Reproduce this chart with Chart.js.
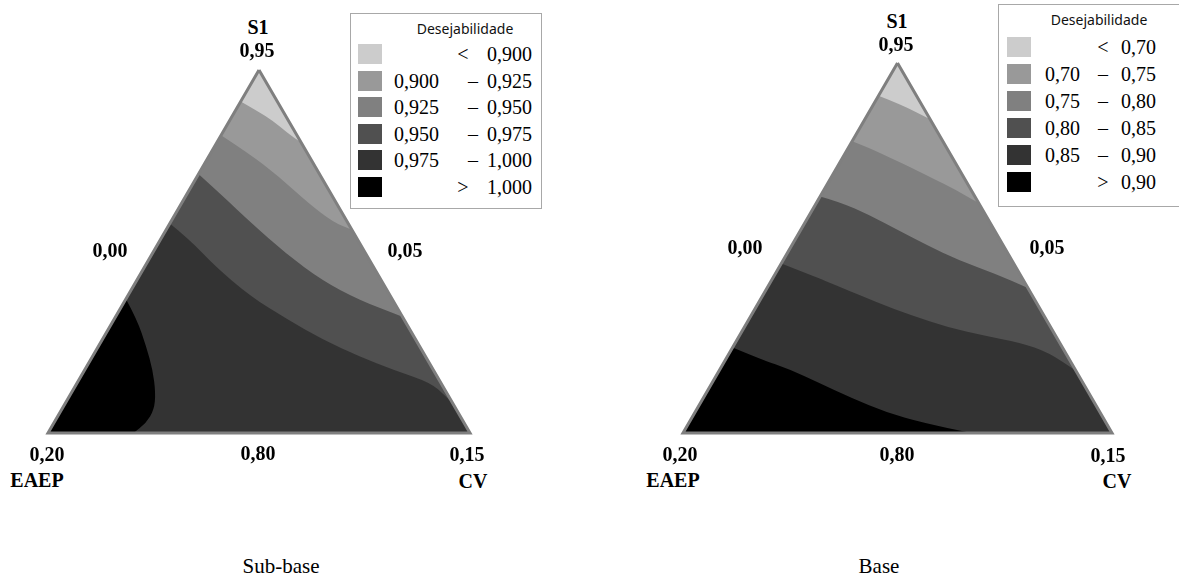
<!DOCTYPE html>
<html>
<head>
<meta charset="utf-8">
<script src="https://cdn.jsdelivr.net/npm/chart.js@4.4.0/dist/chart.umd.min.js"></script>
<style>
  body { margin: 0; width: 1179px; height: 579px; background: #fff; position: relative; overflow: hidden; }
  canvas { position: absolute; }
  .lbl, .cap, .legend .t { font-family: "Liberation Serif", "Times New Roman", Tinos, "DejaVu Serif", "Noto Serif", serif; }
  .lbl { position: absolute; transform: translate(-50%, -50%); font-weight: bold; font-size: 20px; color: #000; white-space: nowrap; }
  .cap { position: absolute; transform: translate(-50%, -50%); font-size: 21px; color: #000; white-space: nowrap; }
  .legend { position: absolute; border: 1px solid #a8a8a8; background: #fff; box-sizing: border-box; }
  .legend .title { position: absolute; transform: translate(-50%, -50%); font-family: "Noto Sans", sans-serif; font-size: 14px; color: #111; white-space: nowrap; }
  .legend .sw { position: absolute; width: 24px; height: 20px; }
  .legend .t { position: absolute; font-size: 20px; color: #000; white-space: nowrap; line-height: 20px; }
</style>
</head>
<body>
<canvas id="subBase" width="442" height="383" style="left:38px;top:60px"></canvas>
<canvas id="base" width="449" height="390" style="left:673px;top:53px"></canvas>
<div id="labels"></div>

<script>
// component names and tick labels (S1 top, EAEP left corner, CV right corner)
const components = ['S1', 'EAEP', 'CV'];
const cornerTicks = ['0,95', '0,20', '0,15'];
const sideTicks = ['0,00', '0,05', '0,80'];
const panelTitles = ['Sub-base', 'Base'];

// legend class breaks
const subBaseBreaks = ['0,900', '0,925', '0,950', '0,975', '1,000'];
const baseBreaks = ['0,70', '0,75', '0,80', '0,85', '0,90'];

// contour lines, each point is [S1, CV] (EAEP = 1 - S1 - CV)
const sub0900 = [[0.937, 0], [0.933, 0.008], [0.929, 0.0155], [0.924, 0.023], [0.920, 0.030]];
const sub0925 = [[0.923, 0], [0.915, 0.0145], [0.906, 0.029], [0.895, 0.045], [0.887, 0.058], [0.884, 0.066]];
const sub0950 = [[0.907, 0], [0.898, 0.013], [0.887, 0.0286], [0.874, 0.0477], [0.863, 0.066], [0.855, 0.083], [0.848, 0.102]];
const sub0975 = [[0.8866, 0], [0.880, 0.0103], [0.869, 0.0248], [0.8565, 0.0437], [0.847, 0.0615], [0.8386, 0.0784],
  [0.8317, 0.0947], [0.826, 0.110], [0.8207, 0.1258], [0.8152, 0.1337], [0.8121, 0.1379]];
const sub1000 = [[0.8554, 0], [0.8469, 0.0082], [0.8358, 0.017], [0.8262, 0.0241], [0.8165, 0.030], [0.8096, 0.0329],
  [0.8041, 0.0328], [0.80, 0.0304]];

const base070 = [[0.9367, 0], [0.9331, 0.0098], [0.9272, 0.0228]];
const base075 = [[0.9183, 0], [0.9156, 0.0073], [0.9115, 0.0169], [0.9074, 0.0264], [0.903, 0.0362], [0.8986, 0.046], [0.8932, 0.0568]];
const base080 = [[0.8959, 0], [0.8936, 0.0082], [0.8884, 0.0209], [0.8823, 0.034], [0.8762, 0.0471], [0.870, 0.0615],
  [0.8646, 0.0768], [0.8588, 0.0912]];
const base085 = [[0.8687, 0], [0.8639, 0.013], [0.8592, 0.0254], [0.853, 0.041], [0.8476, 0.0564], [0.8428, 0.0713],
  [0.8394, 0.0856], [0.8367, 0.0995], [0.8326, 0.1116], [0.8252, 0.1248]];
const base090 = [[0.8347, 0], [0.8299, 0.0123], [0.8258, 0.0244], [0.8204, 0.0372], [0.8143, 0.0516], [0.8082, 0.0673],
  [0.8041, 0.0819], [0.80, 0.1009]];

const shades = ['#cccccc', '#999999', '#808080', '#505050', '#333333', '#000000'];

// mixture vertices
const APEX = [0.95, 0], BL = [0.80, 0], BR = [0.80, 0.15];

// [S1, CV] -> position in the triangle (x along base, y up)
function toXY([s1, cv]) {
  const v = (s1 - 0.80) / 0.15;
  return { x: cv / 0.15 + v / 2, y: v };
}

// fills each region as a closed shape, clipped to the triangle
const contourFill = {
  id: 'contourFill',
  beforeDatasetsDraw(chart) {
    const ctx = chart.ctx;
    const frame = chart.getDatasetMeta(0).data;
    ctx.save();
    ctx.beginPath();
    frame.forEach((p, i) => i ? ctx.lineTo(p.x, p.y) : ctx.moveTo(p.x, p.y));
    ctx.closePath();
    ctx.clip();
    chart.data.datasets.forEach((ds, i) => {
      if (!ds.region) return;
      const pts = chart.getDatasetMeta(i).data;
      const n = ds.curveLen;
      ctx.beginPath();
      ctx.moveTo(pts[0].x, pts[0].y);
      for (let k = 1; k < n - 1; k++) {
        ctx.quadraticCurveTo(pts[k].x, pts[k].y, (pts[k].x + pts[k + 1].x) / 2, (pts[k].y + pts[k + 1].y) / 2);
      }
      ctx.lineTo(pts[n - 1].x, pts[n - 1].y);
      for (let k = n; k < pts.length; k++) ctx.lineTo(pts[k].x, pts[k].y);
      ctx.closePath();
      ctx.fillStyle = ds.backgroundColor;
      ctx.fill();
    });
    ctx.restore();
  }
};

function makePanel(id, curves) {
  const datasets = [{
    data: [APEX, BL, BR, APEX].map(toXY),
    showLine: true, borderColor: '#7f7f7f', borderWidth: 3, pointRadius: 0, clip: false,
    borderJoinStyle: 'miter'
  }, {
    region: true, curveLen: 1, data: [APEX, BL, BR].map(toXY),
    backgroundColor: shades[0], pointRadius: 0, showLine: false
  }];
  curves.forEach((c, i) => {
    const last = c[c.length - 1];
    const tail = last[0] > 0.8001 ? [BR, BL] : [BL];
    datasets.push({
      region: true, curveLen: c.length, data: c.concat(tail).map(toXY),
      backgroundColor: shades[i + 1], pointRadius: 0, showLine: false
    });
  });
  new Chart(document.getElementById(id), {
    type: 'scatter',
    data: { datasets },
    options: {
      responsive: false,
      animation: false,
      layout: { padding: 10 },
      plugins: { legend: { display: false }, tooltip: { enabled: false } },
      scales: {
        x: { type: 'linear', min: 0, max: 1, display: false },
        y: { type: 'linear', min: 0, max: 1, display: false }
      }
    },
    plugins: [contourFill]
  });
}

makePanel('subBase', [sub0900, sub0925, sub0950, sub0975, sub1000]);
makePanel('base', [base070, base075, base080, base085, base090]);

// text around the triangles
const holder = document.getElementById('labels');
function put(cls, text, x, y) {
  const d = document.createElement('div');
  d.className = cls;
  d.textContent = text;
  d.style.left = x + 'px';
  d.style.top = y + 'px';
  holder.appendChild(d);
}
[
  { titleX: 281, top: [258, 27, 257, 50], left: [110, 250], right: [405, 250],
    bl: [47, 454], mid: [258, 453], br: [467, 454], eaep: [37, 480], cv: [473, 481] },
  { titleX: 879, top: [897, 21, 896, 44], left: [745, 247], right: [1047, 247],
    bl: [680, 454], mid: [897, 454], br: [1108, 455], eaep: [673, 480], cv: [1117, 481] }
].forEach((p, i) => {
  put('lbl', components[0], p.top[0], p.top[1]);
  put('lbl', cornerTicks[0], p.top[2], p.top[3]);
  put('lbl', sideTicks[0], p.left[0], p.left[1]);
  put('lbl', sideTicks[1], p.right[0], p.right[1]);
  put('lbl', cornerTicks[1], p.bl[0], p.bl[1]);
  put('lbl', sideTicks[2], p.mid[0], p.mid[1]);
  put('lbl', cornerTicks[2], p.br[0], p.br[1]);
  put('lbl', components[1], p.eaep[0], p.eaep[1]);
  put('lbl', components[2], p.cv[0], p.cv[1]);
  put('cap', panelTitles[i], p.titleX, 566);
});

// legends
function legend(breaks, box) {
  const lg = document.createElement('div');
  lg.className = 'legend';
  Object.assign(lg.style, { left: box.x + 'px', top: box.y + 'px', width: box.w + 'px', height: box.h + 'px' });
  const t = document.createElement('div');
  t.className = 'title';
  t.textContent = 'Desejabilidade';
  t.style.left = box.titleX + 'px';
  t.style.top = box.titleY + 'px';
  lg.appendChild(t);
  const rows = [['', '<', breaks[0]]];
  for (let i = 1; i < breaks.length; i++) rows.push([breaks[i - 1], '–', breaks[i]]);
  rows.push(['', '>', breaks[breaks.length - 1]]);
  rows.forEach((r, i) => {
    const cy = box.row0 + i * box.step;
    const sw = document.createElement('div');
    sw.className = 'sw';
    sw.style.background = shades[i];
    sw.style.left = box.swX + 'px';
    sw.style.top = (cy - 10) + 'px';
    lg.appendChild(sw);
    const a = document.createElement('div');
    a.className = 't';
    a.textContent = r[0];
    a.style.right = (box.w - box.loR) + 'px';
    a.style.top = (cy - 10) + 'px';
    const m = document.createElement('div');
    m.className = 't';
    m.textContent = r[1];
    m.style.left = (r[1] === '–' ? box.dashX : box.signX) + 'px';
    m.style.transform = 'translateX(-50%)';
    m.style.top = (cy - 10) + 'px';
    const b = document.createElement('div');
    b.className = 't';
    b.textContent = r[2];
    b.style.right = (box.w - box.hiR) + 'px';
    b.style.top = (cy - 10) + 'px';
    lg.append(a, m, b);
  });
  document.body.appendChild(lg);
}
legend(subBaseBreaks, { x: 350, y: 13, w: 192, h: 196, titleX: 114, titleY: 14, swX: 7, row0: 40, step: 26.6,
  loR: 90, dashX: 122, signX: 112, hiR: 183 });
legend(baseBreaks, { x: 998, y: 4, w: 190, h: 203, titleX: 100, titleY: 14, swX: 8, row0: 42, step: 27,
  loR: 83, dashX: 104, signX: 104, hiR: 159 });
</script>
</body>
</html>
